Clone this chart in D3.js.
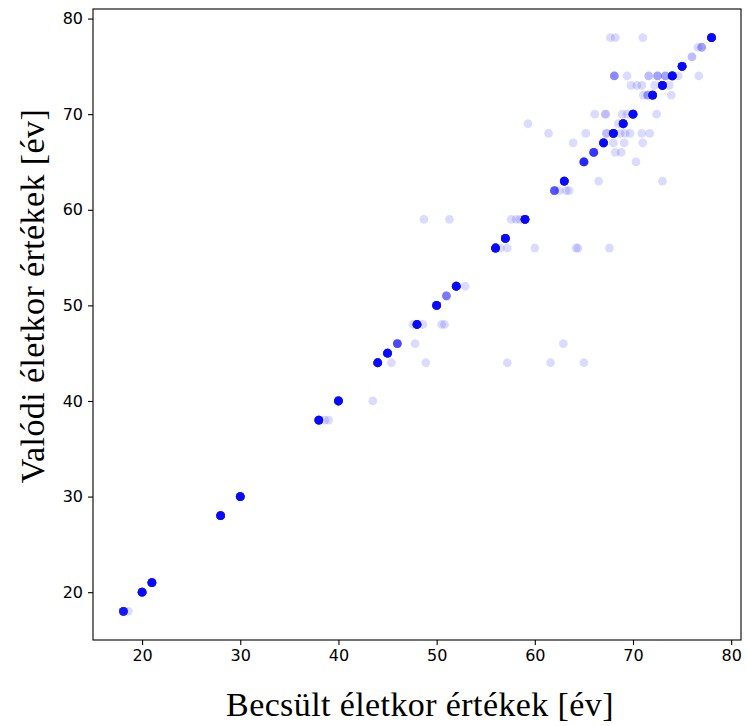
<!DOCTYPE html>
<html>
<head>
<meta charset="utf-8">
<script src="https://cdn.jsdelivr.net/npm/d3@7"></script>
<style>
  body { margin: 0; background: #fff; }
  .tick text { font-family: "DejaVu Sans", sans-serif; font-size: 16px; fill: #000; }
  .axis-title { font-family: "Liberation Serif", "DejaVu Serif", serif; fill: #000; }
</style>
</head>
<body>
<div id="chart"></div>
<script>
// estimated age (x), real age (y), and how many samples sit on that spot
var estimated = [
    67.7, 68.2, 71.0, 78,
    76.6, 77, 76,
    75,
    68.1, 69.4, 71.6, 72.5, 73.3, 74, 74.6, 76.7,
    69.8, 70.4, 70.9, 72.2, 73, 73.7,
    71.05, 71.5, 72, 73.9,
    66.1, 67.2, 68.9, 69.4, 70, 72.4,
    59.3, 68.5, 69,
    61.4, 65.2, 67.3, 68, 68.7, 69.2, 69.7, 70.9, 71.7,
    63.9, 67, 68, 69.1, 71.0,
    66, 68.2, 68.8,
    65, 70.3,
    63, 66.5, 73,
    62, 62.5, 63.2, 63.5,
    48.7, 51.3, 57.6, 58.1, 58.5, 59,
    57,
    56, 56.5, 57.2, 60.0, 64.2, 64.4, 67.6,
    52, 52.9,
    51,
    50,
    47.6, 48, 48.6, 50.5, 50.8,
    46, 47.8, 62.9,
    45,
    44, 45.4, 48.9, 57.2, 61.6, 65.0,
    40, 43.5,
    38, 38.6, 39.0,
    30, 28, 21, 20,
    18.1, 18.6
];
var real = [
    78, 78, 78, 78,
    77, 77, 76,
    75,
    74, 74, 74, 74, 74, 74, 74, 74,
    73, 73, 73, 73, 73, 73,
    72, 72, 72, 72,
    70, 70, 70, 70, 70, 70,
    69, 69, 69,
    68, 68, 68, 68, 68, 68, 68, 68, 68,
    67, 67, 67, 67, 67,
    66, 66, 66,
    65, 65,
    63, 63, 63,
    62, 62, 62, 62,
    59, 59, 59, 59, 59, 59,
    57,
    56, 56, 56, 56, 56, 56, 56,
    52, 52,
    51,
    50,
    48, 48, 48, 48, 48,
    46, 46, 46,
    45,
    44, 44, 44, 44, 44, 44,
    40, 40,
    38, 38, 38,
    30, 28, 21, 20,
    18, 18
];
var counts = [
    1, 1, 1, 20,
    1, 3, 2,
    20,
    4, 1, 2, 3, 3, 20, 1, 1,
    1, 1, 1, 1, 20, 1,
    1, 3, 20, 1,
    1, 2, 1, 1, 20, 1,
    1, 1, 20,
    1, 1, 2, 20, 1, 1, 1, 1, 1,
    1, 20, 1, 1, 1,
    10, 1, 1,
    12, 1,
    20, 1, 1,
    7, 1, 1, 1,
    1, 1, 1, 1, 1, 20,
    20,
    20, 1, 1, 1, 1, 1, 1,
    20, 1,
    5,
    20,
    1, 20, 1, 1, 1,
    8, 1, 1,
    20,
    20, 1, 1, 1, 1, 1,
    20, 1,
    20, 1, 1,
    20, 20, 20, 20,
    15, 1
];
var xTicks = [20, 30, 40, 50, 60, 70, 80];
var yTicks = [20, 30, 40, 50, 60, 70, 80];
var xLabel = "Becsült életkor értékek [év]";
var yLabel = "Valódi életkor értékek [év]";

var width = 747, height = 726;
var margin = { top: 9, right: 6, bottom: 86, left: 93 };
var plotW = width - margin.left - margin.right,
    plotH = height - margin.top - margin.bottom;

var points = [];
estimated.forEach(function (e, i) {
    for (var k = 0; k < counts[i]; k++) points.push({ x: e, y: real[i] });
});

var x = d3.scaleLinear().domain([15, 81]).range([0, plotW]);
var y = d3.scaleLinear().domain([15, 81]).range([plotH, 0]);

var svg = d3.select("#chart").append("svg")
    .attr("width", width)
    .attr("height", height);

var g = svg.append("g")
    .attr("transform", "translate(" + margin.left + "," + margin.top + ")");

g.append("g")
    .selectAll("circle")
    .data(points)
    .join("circle")
    .attr("cx", function (d) { return x(d.x); })
    .attr("cy", function (d) { return y(d.y); })
    .attr("r", 4.4)
    .style("fill", "#0000ff")
    .style("fill-opacity", 0.14);

// frame
g.append("rect")
    .attr("width", plotW)
    .attr("height", plotH)
    .style("fill", "none")
    .style("stroke", "#000")
    .style("stroke-width", 1.1);

var xAxis = g.append("g")
    .attr("transform", "translate(0," + plotH + ")")
    .call(d3.axisBottom(x).tickValues(xTicks).tickSize(5).tickPadding(5));
var yAxis = g.append("g")
    .call(d3.axisLeft(y).tickValues(yTicks).tickSize(5).tickPadding(5));

[xAxis, yAxis].forEach(function (a) {
    a.select(".domain").remove();
    a.selectAll(".tick line").style("stroke", "#000").style("stroke-width", 1.1);
});

svg.append("text")
    .attr("class", "axis-title")
    .attr("x", margin.left + plotW / 2 + 3)
    .attr("y", 716)
    .attr("text-anchor", "middle")
    .style("font-size", "34px")
    .style("letter-spacing", "0.4px")
    .text(xLabel);

svg.append("text")
    .attr("class", "axis-title")
    .attr("transform", "translate(44,296) rotate(-90)")
    .attr("text-anchor", "middle")
    .style("font-size", "34px")
    .style("letter-spacing", "0.4px")
    .text(yLabel);
</script>
</body>
</html>
